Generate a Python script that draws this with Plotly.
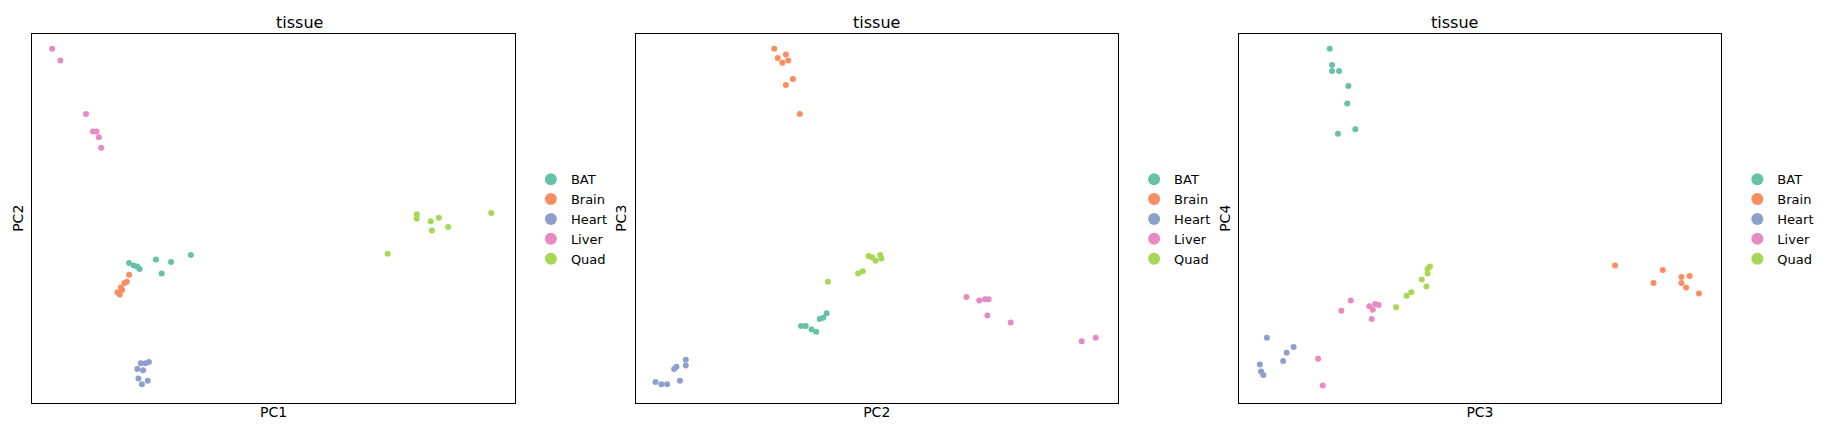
import plotly.graph_objects as go

# coordinates (arbitrary PC units, y flipped)
tissues = ["BAT", "Brain", "Heart", "Liver", "Quad"]
colors = ["#66c2a5", "#fc8d62", "#8da0cb", "#e78ac3", "#a6d854"]

p1 = {
    "BAT": ([110, 114, 117, 119, 133, 138, 146, 163], [225, 227, 228, 230, 222, 234, 224, 218]),
    "Brain": ([100, 102, 103, 106, 108, 110, 104], [250, 252, 246, 242, 241, 235, 248]),
    "Heart": ([120, 124, 127, 122, 118, 126, 121, 117], [311, 311, 310, 317, 324, 326, 329, 316]),
    "Liver": ([44, 51, 73, 79, 82, 84, 86], [41, 51, 97, 112, 112, 117, 126]),
    "Quad": ([332, 357, 357, 369, 370, 376, 384, 421], [217, 183, 187, 189, 197, 186, 194, 182]),
}
p2 = {
    "BAT": ([687, 691, 696, 700, 703, 706, 709], [279, 279, 282, 284, 273, 272, 268]),
    "Brain": ([664, 667, 671, 674, 676, 680, 674, 686], [41, 49, 53, 46, 51, 67, 72, 97]),
    "Heart": ([562, 567, 572, 583, 578, 580, 588, 588], [327, 329, 329, 326, 316, 314, 313, 308]),
    "Liver": ([829, 840, 845, 848, 847, 867, 928, 940], [254, 257, 256, 256, 270, 276, 292, 289]),
    "Quad": ([710, 736, 740, 745, 748, 751, 755, 756], [241, 234, 232, 219, 220, 223, 218, 221]),
}
p3 = {
    "BAT": ([1141, 1143, 1143, 1149, 1157, 1156, 1163, 1148], [41, 55, 60, 60, 73, 88, 110, 114]),
    "Brain": ([1386, 1419, 1427, 1443, 1447, 1450, 1443, 1458], [227, 242, 231, 237, 246, 236, 242, 251]),
    "Heart": ([1081, 1082, 1084, 1087, 1101, 1104, 1110], [312, 318, 321, 289, 309, 302, 297]),
    "Liver": ([1151, 1159, 1175, 1180, 1178, 1183, 1177, 1131, 1135], [266, 257, 262, 260, 265, 261, 273, 307, 330]),
    "Quad": ([1198, 1207, 1211, 1220, 1224, 1225, 1227, 1225], [263, 253, 250, 239, 245, 234, 228, 230]),
}
panels = [(p1, "PC1", "PC2", [27, 441]), (p2, "PC2", "PC3", [545, 959]), (p3, "PC3", "PC4", [1063, 1477])]

W = 1568.0
DX = 6  # small shift correction
DY = 6
fig = go.Figure()
layout = dict(width=1826, height=431, margin=dict(l=0, r=0, t=0, b=0),
              plot_bgcolor="white", paper_bgcolor="white",
              font=dict(family="DejaVu Sans", size=12, color="black"))
annotations = []
for i, (pts, xl, yl, xr) in enumerate(panels):
    n = "" if i == 0 else str(i + 1)
    leg = "legend" + n
    for t, c in zip(tissues, colors):
        xs, ys = pts[t]
        fig.add_trace(go.Scatter(x=xs, y=[-v for v in ys], mode="markers", name=t,
                                 marker=dict(color=c, size=6), xaxis="x" + n, yaxis="y" + n,
                                 legend=leg))
    axstyle = dict(showticklabels=False, ticks="", showgrid=False, zeroline=False,
                   showline=True, mirror=True, linecolor="black", linewidth=1)
    layout["xaxis" + n] = dict(axstyle, domain=[(xr[0] - DX) / W, (xr[1] - DX) / W], range=xr,
                               anchor="y" + n, title=dict(text=xl, standoff=4))
    layout["yaxis" + n] = dict(axstyle, domain=[1 - (345 - DY) / 370, 1 - (28 - DY) / 370],
                               range=[-345, -28], anchor="x" + n, title=dict(text=yl, standoff=4))
    layout[leg] = dict(x=(xr[1] + 8) / W, y=0.51, xanchor="left", yanchor="middle",
                       bgcolor="rgba(0,0,0,0)", font=dict(size=13), itemsizing="constant")
    annotations.append(dict(text="tissue", x=((xr[0] + xr[1]) / 2 - DX) / W, y=1 - 22 / 370,
                            xref="paper", yref="paper", showarrow=False,
                            font=dict(size=16), yanchor="bottom"))
layout["annotations"] = annotations
fig.update_layout(**layout)
fig.write_html("out.html")
